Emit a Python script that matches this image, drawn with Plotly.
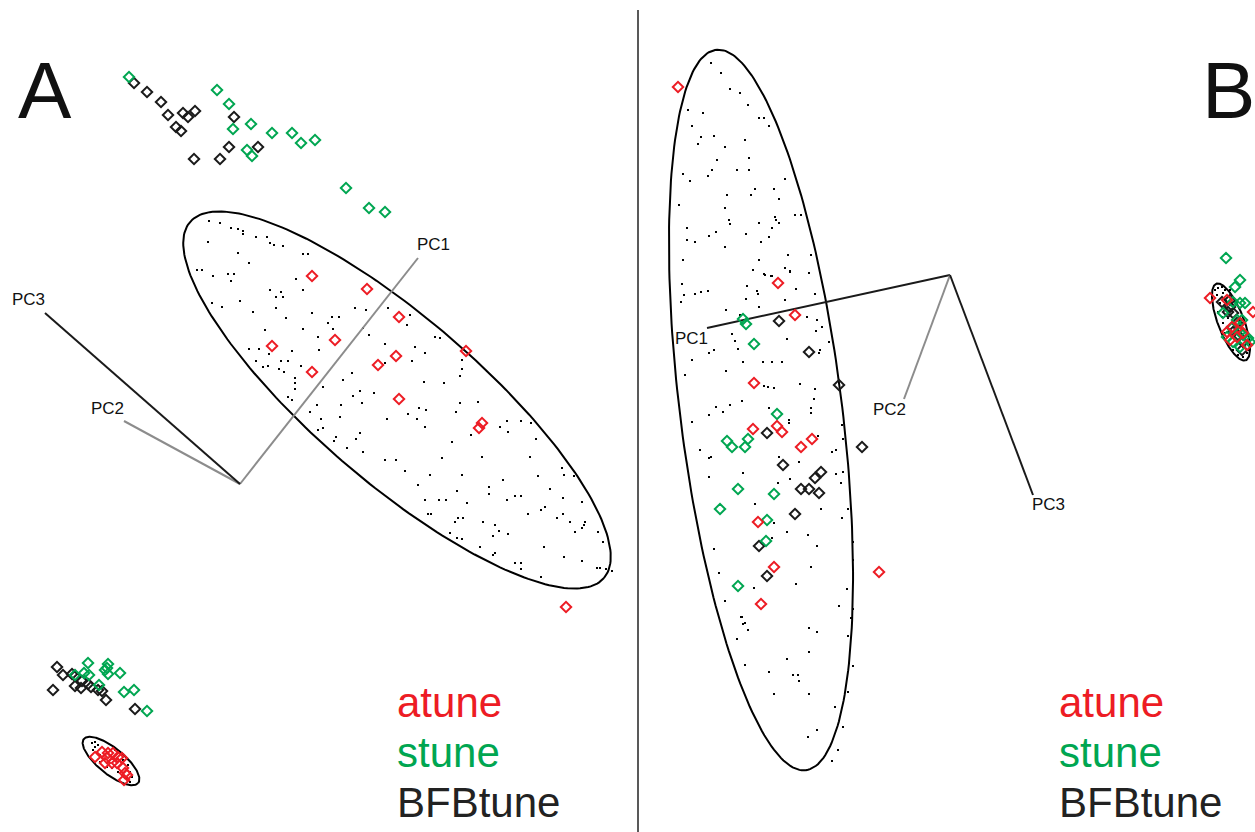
import numpy as np
import plotly.graph_objects as go

RED = "#ED1C24"
GREEN = "#00A651"
BLACK = "#1a1a1a"
GREY = "#8c8c8c"

# ---------------- Panel A: projected scores (x, y) ----------------
a_atune_x = [312, 367, 399, 466, 272, 335, 396, 378, 312, 399, 482, 479, 566,
             95, 102, 107, 108, 113, 118, 117, 122, 123, 125, 127, 124, 112, 105]
a_atune_y = [276, 289, 317, 351, 346, 340, 356, 365, 372, 399, 423, 428, 607,
             757, 752, 758, 753, 753, 757, 763, 758, 768, 773, 775, 780, 763, 763]

a_stune_x = [129, 217, 229, 251, 233, 272, 292, 301, 315, 247, 252, 346, 369, 385,
             88, 108, 107, 105, 108, 120, 75, 84, 89, 99, 124, 134, 147]
a_stune_y = [77, 90, 104, 124, 129, 133, 133, 143, 140, 150, 156, 188, 208, 212,
             663, 664, 668, 670, 674, 673, 675, 673, 675, 685, 692, 690, 711]

a_bfb_x = [134, 147, 161, 168, 183, 188, 195, 176, 181, 234, 229, 258, 194, 220,
           57, 63, 72, 75, 82, 81, 88, 91, 98, 102, 53, 106, 135, 75]
a_bfb_y = [83, 92, 102, 115, 113, 117, 111, 127, 131, 117, 147, 147, 159, 159,
           667, 675, 674, 686, 681, 688, 684, 687, 690, 691, 690, 700, 709, 676]

# background sample (small dots)
a_bg_x = [209, 220, 231, 238, 243, 243, 256, 267, 208, 270, 274, 283, 238, 303, 308,
          249, 197, 202, 213, 228, 234, 231, 296, 270, 281, 303, 276, 283, 240, 212,
          222, 276, 355, 366, 388, 253, 312, 286, 332, 339, 410, 407, 328, 333, 303,
          265, 363, 369, 435, 440, 318, 385, 415, 425, 249, 259, 292, 319, 269, 256,
          281, 288, 268, 385, 412, 462, 263, 279, 284, 301, 462, 295, 295, 352, 343,
          424, 444, 460, 295, 323, 360, 374, 353, 288, 292, 362, 478, 460, 317, 310,
          341, 419, 456, 408, 426, 340, 417, 321, 387, 507, 521, 531, 425, 500, 508,
          318, 323, 471, 360, 356, 336, 334, 536, 347, 363, 452, 385, 396, 442, 482,
          530, 405, 562, 564, 430, 462, 503, 538, 574, 418, 489, 489, 515, 521, 507,
          457, 467, 550, 563, 582, 446, 425, 439, 545, 541, 528, 563, 557, 585, 428,
          431, 455, 458, 463, 483, 570, 584, 582, 495, 499, 508, 575, 598, 450, 457,
          462, 493, 603, 544, 480, 495, 493, 564, 582, 515, 521, 521, 597, 600, 606,
          612, 541,
          92, 95, 98, 93, 100, 107, 112, 118, 122, 127, 130, 132, 130, 128, 123, 95,
          100, 115, 120, 110]
a_bg_y = [221, 223, 228, 229, 231, 234, 237, 237, 242, 243, 245, 246, 253, 254, 254,
          263, 270, 270, 276, 274, 274, 281, 279, 290, 292, 290, 297, 297, 301, 303,
          307, 308, 308, 310, 308, 312, 313, 318, 317, 317, 315, 325, 323, 329, 329,
          330, 328, 335, 337, 338, 337, 344, 347, 353, 349, 349, 351, 350, 354, 361,
          361, 361, 366, 363, 361, 360, 367, 369, 372, 366, 369, 378, 383, 373, 380,
          382, 383, 376, 389, 387, 391, 393, 396, 397, 400, 403, 402, 403, 405, 412,
          405, 408, 412, 414, 410, 417, 419, 419, 419, 421, 421, 423, 427, 427, 432,
          430, 428, 435, 433, 439, 437, 441, 439, 448, 452, 442, 460, 460, 458, 457,
          457, 471, 468, 475, 475, 475, 480, 476, 476, 485, 487, 494, 496, 496, 500,
          491, 503, 489, 498, 502, 500, 500, 500, 507, 510, 514, 514, 518, 522, 514,
          514, 522, 518, 518, 522, 522, 525, 528, 525, 531, 534, 532, 532, 533, 538,
          539, 536, 542, 547, 547, 553, 555, 557, 561, 563, 563, 569, 568, 568, 569,
          571, 577,
          743, 742, 745, 750, 762, 767, 768, 772, 775, 778, 782, 777, 772, 765, 760,
          747, 755, 750, 752, 756]

# ---------------- Panel B: projected scores (x, y) ----------------
b_atune_x = [678, 778, 795, 754, 753, 777, 782, 812, 801, 758, 774, 761, 879,
             1210, 1227, 1253, 1232, 1227, 1240, 1243, 1237, 1247, 1230]
b_atune_y = [87, 283, 315, 383, 429, 426, 432, 439, 447, 522, 567, 604, 572,
             298, 300, 312, 327, 332, 323, 333, 337, 345, 340]

b_stune_x = [743, 746, 754, 777, 727, 732, 748, 745, 738, 774, 720, 767, 766, 738,
             1226, 1240, 1235, 1233, 1240, 1245, 1223, 1237, 1242, 1232, 1227, 1240,
             1243, 1233, 1248, 1240, 1250]
b_stune_y = [319, 324, 344, 414, 441, 447, 439, 447, 489, 494, 509, 520, 541, 586,
             258, 280, 287, 302, 303, 303, 313, 320, 320, 328, 337, 332, 335, 342,
             338, 347, 342]

b_bfb_x = [779, 809, 839, 767, 783, 821, 815, 801, 809, 819, 795, 759, 767, 862,
           1222, 1230, 1228, 1233, 1230, 1233, 1238, 1243, 1242, 1237]
b_bfb_y = [321, 352, 385, 433, 465, 472, 478, 489, 489, 493, 514, 546, 576, 447,
           302, 300, 312, 313, 307, 332, 335, 342, 350, 323]

b_bg_x = [711, 721, 730, 740, 748, 688, 703, 759, 764, 692, 769, 701, 714, 698, 745,
          725, 717, 749, 712, 737, 749, 683, 690, 708, 785, 755, 774, 727, 751, 779,
          679, 725, 795, 801, 775, 776, 729, 730, 759, 779, 687, 772, 716, 709, 746,
          769, 687, 695, 761, 725, 683, 759, 788, 811, 753, 764, 771, 785, 790, 809,
          682, 695, 701, 708, 684, 681, 747, 757, 758, 765, 772, 790, 796, 815, 785,
          746, 726, 759, 740, 787, 732, 735, 738, 714, 709, 692, 685, 726, 743, 763,
          772, 782, 807, 817, 816, 822, 820, 829, 819, 764, 768, 774, 800, 814, 815,
          742, 730, 723, 716, 709, 692, 769, 789, 789, 811, 811, 842, 818, 843, 836,
          832, 709, 711, 700, 779, 799, 743, 709, 790, 778, 836, 841, 843, 755, 821,
          848, 842, 774, 787, 808, 817, 853, 714, 772, 853, 811, 719, 796, 847, 725,
          754, 839, 853, 741,
          742, 743, 745, 748, 737, 851, 809, 817, 848, 809, 787, 745, 853, 769, 793,
          798, 799, 774, 809, 848, 835, 843, 817, 808, 838, 832,
          1215, 1218, 1222, 1225, 1217, 1220, 1218, 1222, 1223, 1227, 1225, 1230, 1233,
          1238, 1243, 1247, 1248, 1228, 1230, 1223]
b_bg_y = [63, 73, 89, 93, 105, 110, 113, 118, 118, 126, 126, 137, 136, 144, 140,
          147, 160, 158, 170, 170, 170, 174, 181, 176, 179, 189, 189, 195, 195, 199,
          205, 208, 215, 215, 217, 220, 220, 224, 223, 223, 228, 228, 232, 236, 234,
          237, 240, 242, 242, 247, 260, 260, 255, 255, 270, 274, 276, 268, 271, 273,
          284, 294, 292, 291, 295, 302, 286, 291, 294, 275, 276, 272, 289, 294, 300,
          299, 310, 307, 315, 339, 334, 341, 349, 350, 353, 360, 375, 371, 362, 362,
          362, 362, 317, 320, 331, 327, 350, 342, 353, 386, 387, 388, 384, 399, 389,
          401, 405, 412, 407, 415, 422, 408, 420, 423, 408, 413, 425, 436, 439, 450,
          452, 458, 457, 450, 457, 462, 473, 477, 479, 483, 474, 483, 472, 504, 509,
          509, 518, 523, 532, 535, 546, 542, 549, 538, 560, 567, 573, 584, 589, 601,
          588, 606, 609, 617,
          617, 624, 623, 630, 639, 618, 628, 632, 636, 652, 659, 665, 666, 672, 675,
          675, 681, 694, 694, 692, 707, 727, 730, 737, 750, 761,
          290, 288, 287, 290, 295, 303, 312, 317, 323, 327, 333, 345, 350,
          355, 357, 353, 350, 318, 290, 293]

# ---------------- Loading directions (origin, tips) ----------------
a_origin = (240, 484)
a_axes = {"PC1": (418, 258), "PC2": (124, 421), "PC3": (45, 313)}
a_axis_colors = {"PC1": GREY, "PC2": GREY, "PC3": BLACK}
a_label_pos = {"PC1": (433, 244), "PC2": (107, 408), "PC3": (28, 299)}

b_origin = (950, 275)
b_axes = {"PC1": (707, 328), "PC2": (904, 399), "PC3": (1033, 495)}
b_axis_colors = {"PC1": BLACK, "PC2": GREY, "PC3": BLACK}
b_label_pos = {"PC1": (691, 338), "PC2": (889, 409), "PC3": (1048, 504)}

# confidence ellipses: centre x, centre y, semi-major, semi-minor, tilt (deg)
ellipses = [
    (397, 400, 273, 82, 40.7),
    (111, 761, 35, 13, 39.0),
    (761, 410, 363, 81, 82.9),
    (1231, 322, 41, 13, 69.0),
]

fig = go.Figure()


def ellipse_xy(cx, cy, a, b, deg):
    t = np.linspace(0, 2 * np.pi, 240)
    th = np.deg2rad(deg)
    ex = cx + a * np.cos(t) * np.cos(th) - b * np.sin(t) * np.sin(th)
    ey = cy + a * np.cos(t) * np.sin(th) + b * np.sin(t) * np.cos(th)
    return ex, ey


# background dots
for xs, ys in [(a_bg_x, a_bg_y), (b_bg_x, b_bg_y)]:
    fig.add_trace(go.Scatter(x=xs, y=ys, mode="markers",
                             marker=dict(symbol="square", size=2, color="black",
                                         line=dict(width=0)),
                             hoverinfo="skip"))

# ellipses
for cx, cy, a, b, d in ellipses:
    ex, ey = ellipse_xy(cx, cy, a, b, d)
    fig.add_trace(go.Scatter(x=ex, y=ey, mode="lines",
                             line=dict(color="black", width=2), hoverinfo="skip"))

# loading lines
for origin, axes, cols in [(a_origin, a_axes, a_axis_colors),
                           (b_origin, b_axes, b_axis_colors)]:
    for name, tip in axes.items():
        fig.add_trace(go.Scatter(x=[origin[0], tip[0]], y=[origin[1], tip[1]],
                                 mode="lines",
                                 line=dict(color=cols[name], width=2),
                                 hoverinfo="skip"))

# group scores
groups = [
    (a_bfb_x, a_bfb_y, BLACK), (a_stune_x, a_stune_y, GREEN), (a_atune_x, a_atune_y, RED),
    (b_bfb_x, b_bfb_y, BLACK), (b_stune_x, b_stune_y, GREEN), (b_atune_x, b_atune_y, RED),
]
for xs, ys, col in groups:
    fig.add_trace(go.Scatter(x=xs, y=ys, mode="markers",
                             marker=dict(symbol="diamond-open", size=8, color=col,
                                         line=dict(width=2, color=col)),
                             hoverinfo="skip"))

# panel divider
fig.add_shape(type="line", x0=638, x1=638, y0=10, y1=832,
              line=dict(color="#222222", width=1.5), layer="below")

FONT = "Liberation Sans, Arial, sans-serif"
ann = []
for labels in (a_label_pos, b_label_pos):
    for name, (lx, ly) in labels.items():
        ann.append(dict(x=lx, y=ly, text=name, showarrow=False,
                        font=dict(family=FONT, size=17, color="#111111"),
                        xanchor="center", yanchor="middle"))

ann.append(dict(x=45, y=90, text="A", showarrow=False, xanchor="center",
                yanchor="middle", font=dict(family=FONT, size=80, color="#111111")))
ann.append(dict(x=1200, y=90, text="B", showarrow=False, xanchor="left",
                yanchor="middle", font=dict(family=FONT, size=80, color="#111111")))

legend_items = [("atune", RED), ("stune", GREEN), ("BFBtune", "#222222")]
legend_y = [702, 752, 802]
for x0 in (395, 1057):
    for (txt, col), ly in zip(legend_items, legend_y):
        ann.append(dict(x=x0, y=ly, text=txt, showarrow=False, xanchor="left",
                        yanchor="middle", font=dict(family=FONT, size=42, color=col)))

fig.update_layout(
    width=1255, height=832,
    margin=dict(l=0, r=0, t=0, b=0),
    paper_bgcolor="white", plot_bgcolor="white",
    showlegend=False,
    annotations=ann,
    xaxis=dict(range=[0, 1255], visible=False, showgrid=False, zeroline=False),
    yaxis=dict(range=[832, 0], visible=False, showgrid=False, zeroline=False),
)

fig.write_html("out.html")
